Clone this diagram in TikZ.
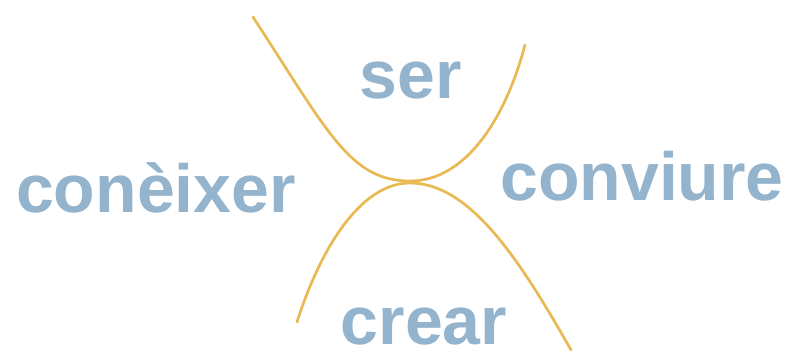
\documentclass[tikz,border=0pt]{standalone}
\usepackage{fontspec}
\setmainfont{Liberation Sans}
\usepackage{tikz}
\definecolor{wordblue}{RGB}{148,179,204}
\definecolor{curvegold}{RGB}{233,186,84}

\begin{document}
\begin{tikzpicture}[x=1pt,y=-1pt,every node/.style={inner sep=0pt, outer sep=0pt},
  word/.style={anchor=base, text=wordblue, font=\bfseries\fontsize{68}{68}\selectfont},
  branch/.style={draw=curvegold, line width=2.7pt, line cap=round}]
\useasboundingbox (0,0) rectangle (790,351);
\node[word] (ser) at (411,98) {ser};
\node[word] (conn) at (156,212) {conèixer};
\node[word] (conv) at (642,200) {conviure};
\node[word] (crear) at (424,344) {crear};
\draw[branch] (253,17) .. controls (328,132) and (350,181) .. (410,181) .. controls (465,181) and (505,120) .. (525,45);
\draw[branch] (297,322) .. controls (320,250) and (360,183) .. (410,183) .. controls (470,183) and (520,260) .. (571,350);
\end{tikzpicture}
\end{document}
